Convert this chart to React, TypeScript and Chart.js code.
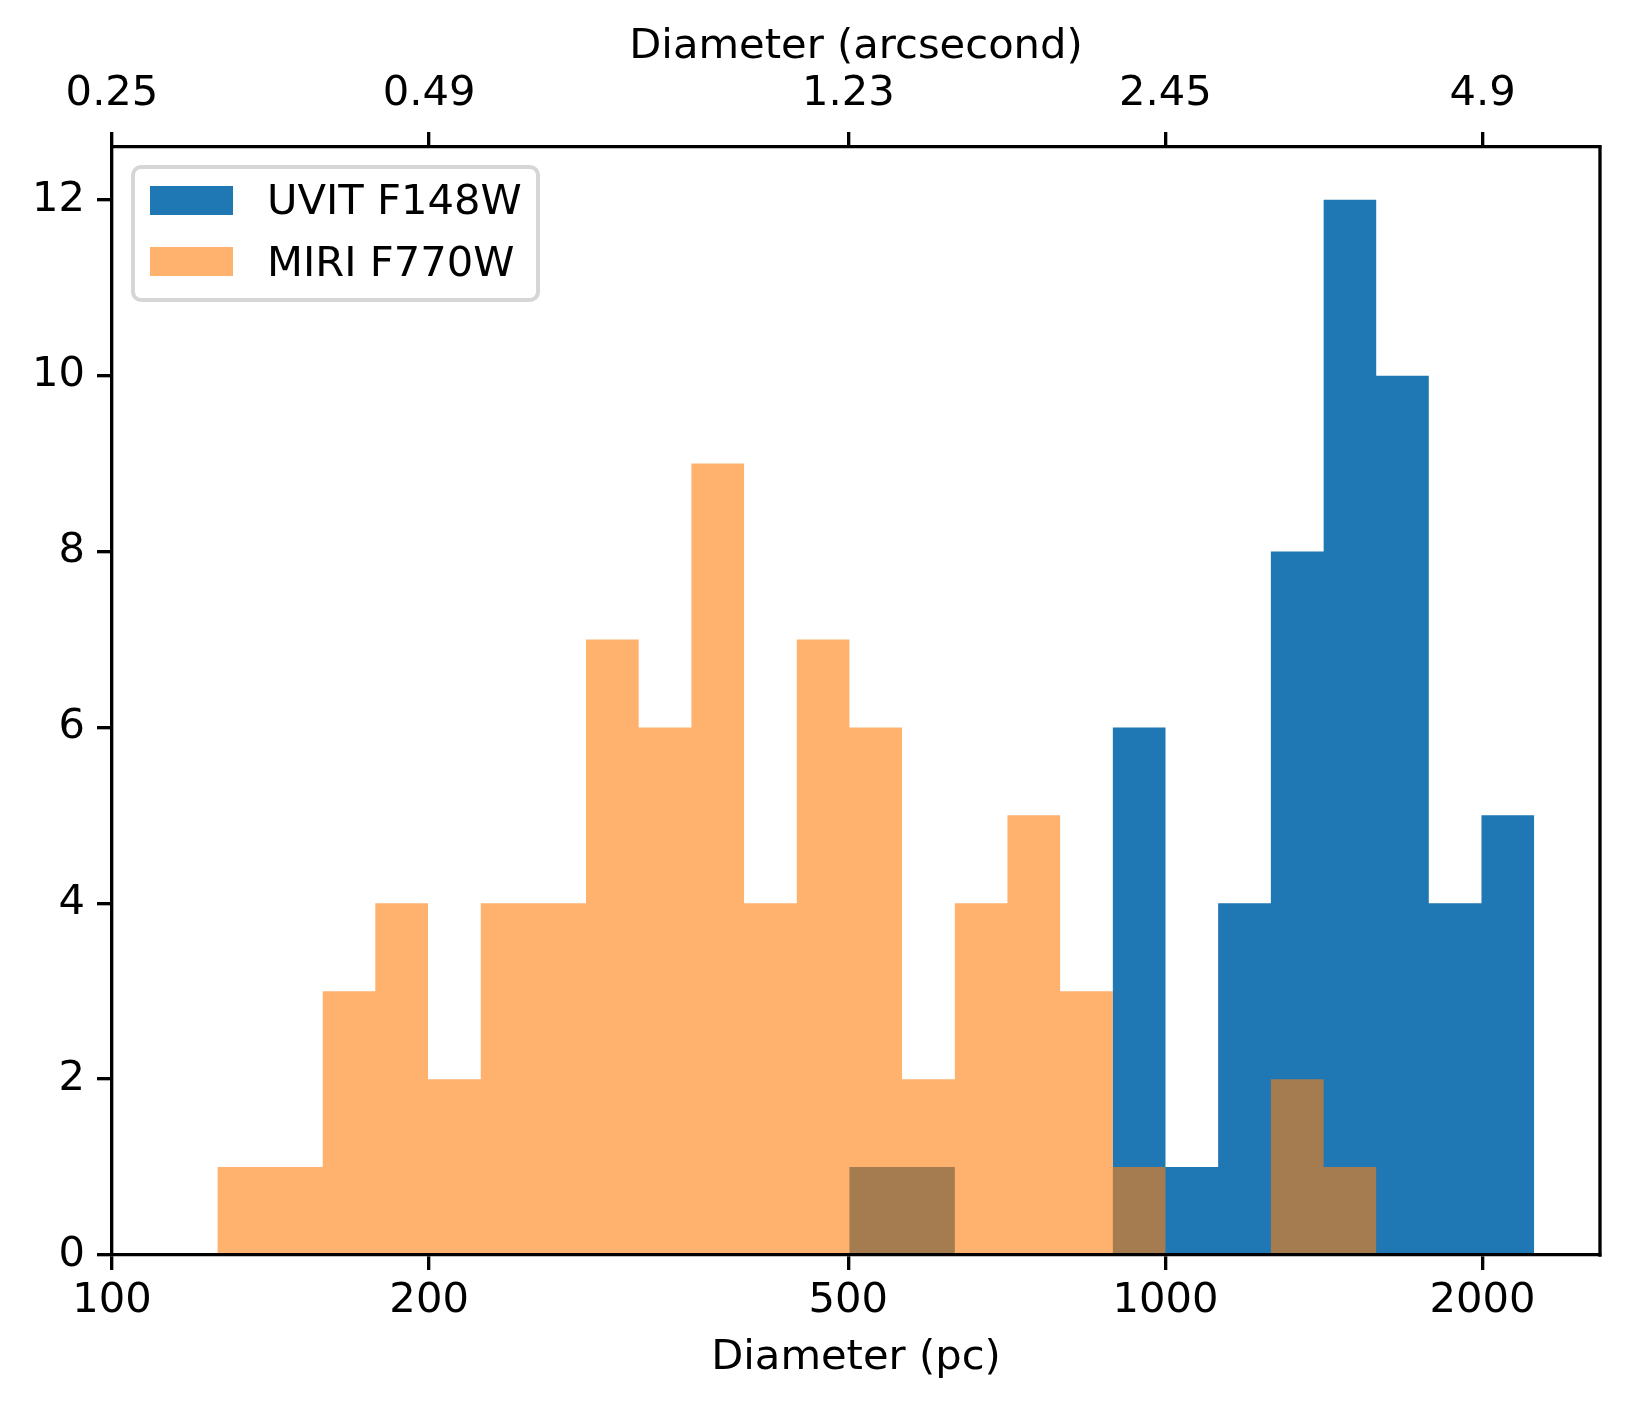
import { useEffect, useRef } from 'react';
import { Chart, registerables } from 'chart.js';

Chart.register(...registerables);

// log-spaced bins, 0.05 dex wide (pc)
const BIN_EDGES = [
  125.9, 141.3, 158.5, 177.8, 199.5, 223.9, 251.2, 281.8, 316.2, 354.8, 398.1,
  446.7, 501.2, 562.3, 631.0, 707.9, 794.3, 891.3, 1000, 1122, 1259, 1413,
  1585, 1778, 1995, 2239,
];

const UVIT_COUNTS = [0, 0, 0, 0, 0, 0, 0, 0, 0, 0, 0, 0, 1, 1, 0, 0, 0, 6, 1, 4, 8, 12, 10, 4, 5];
const MIRI_COUNTS = [1, 1, 3, 4, 2, 4, 4, 7, 6, 9, 4, 7, 6, 2, 4, 5, 3, 1, 0, 0, 2, 1, 0, 0, 0];

const SERIES_LABELS = ['UVIT F148W', 'MIRI F770W'];

const PC_TICKS = [100, 200, 500, 1000, 2000];
const ARCSEC_LABELS = ['0.25', '0.49', '1.23', '2.45', '4.9'];
const Y_TICKS = [0, 2, 4, 6, 8, 10, 12];

const UVIT_COLOR = '#1f77b4';
const MIRI_COLOR = 'rgba(255, 127, 14, 0.6)';
const MIRI_SWATCH = '#ffb26e';

const FONT = { family: 'DejaVu Sans', size: 41.67 };
const LINE = 3.33;

// one point per left edge, value held until the next edge
function toSteps(counts: number[]) {
  const pts = counts.map((c, i) => ({ x: BIN_EDGES[i], y: c }));
  pts.push({ x: BIN_EDGES[BIN_EDGES.length - 1], y: 0 });
  return pts;
}

const rightSpine = {
  id: 'rightSpine',
  afterDraw(chart: any) {
    const { ctx, chartArea } = chart;
    ctx.save();
    ctx.strokeStyle = '#000';
    ctx.lineWidth = LINE;
    ctx.beginPath();
    ctx.moveTo(chartArea.right, chartArea.top - LINE / 2);
    ctx.lineTo(chartArea.right, chartArea.bottom + LINE / 2);
    ctx.stroke();
    ctx.restore();
  },
};

const tickGrid = {
  display: true,
  drawOnChartArea: false,
  drawTicks: true,
  tickLength: 15,
  color: '#000',
  lineWidth: LINE,
  z: 1,
};

// spines drawn above the bars, like matplotlib
const axisBorder = { display: true, color: '#000', width: LINE, z: 1 };

function App() {
  const canvasRef = useRef<HTMLCanvasElement | null>(null);

  useEffect(() => {
    const chart = new Chart(canvasRef.current as HTMLCanvasElement, {
      type: 'line',
      data: {
        datasets: [
          {
            label: SERIES_LABELS[0],
            data: toSteps(UVIT_COUNTS),
            backgroundColor: UVIT_COLOR,
            borderWidth: 0,
            pointRadius: 0,
            pointHoverRadius: 0,
            stepped: 'before',
            fill: 'origin',
            order: 2,
          },
          {
            label: SERIES_LABELS[1],
            data: toSteps(MIRI_COUNTS),
            backgroundColor: MIRI_COLOR,
            borderWidth: 0,
            pointRadius: 0,
            pointHoverRadius: 0,
            stepped: 'before',
            fill: 'origin',
            order: 1,
          },
        ],
      },
      options: {
        responsive: false,
        animation: false,
        devicePixelRatio: 1,
        events: [],
        layout: { padding: { left: 0, right: 30, top: 0, bottom: 0 } },
        plugins: {
          legend: { display: false },
          tooltip: { enabled: false },
        },
        scales: {
          x: {
            type: 'logarithmic',
            position: 'bottom',
            min: 100,
            max: 2585,
            afterBuildTicks: (axis: any) => {
              axis.ticks = PC_TICKS.map((v) => ({ value: v }));
            },
            afterFit: (axis: any) => {
              axis.height = 156;
            },
            grid: tickGrid,
            border: axisBorder,
            ticks: {
              autoSkip: false,
              maxRotation: 0,
              padding: 6,
              font: FONT,
              color: '#000',
              callback: (v: any) => String(v),
            },
            title: {
              display: true,
              text: 'Diameter (pc)',
              font: FONT,
              color: '#000',
              padding: { top: 0, bottom: 28 },
            },
          },
          x2: {
            type: 'logarithmic',
            position: 'top',
            min: 100,
            max: 2585,
            afterBuildTicks: (axis: any) => {
              axis.ticks = PC_TICKS.map((v) => ({ value: v }));
            },
            afterFit: (axis: any) => {
              axis.height = 147;
            },
            grid: tickGrid,
            border: axisBorder,
            ticks: {
              autoSkip: false,
              maxRotation: 0,
              padding: 13,
              font: FONT,
              color: '#000',
              callback: (_v: any, i: number) => ARCSEC_LABELS[i],
            },
            title: {
              display: true,
              text: 'Diameter (arcsecond)',
              font: FONT,
              color: '#000',
              padding: { top: 22.6, bottom: 0 },
            },
          },
          y: {
            type: 'linear',
            min: 0,
            max: 12.6,
            afterBuildTicks: (axis: any) => {
              axis.ticks = Y_TICKS.map((v) => ({ value: v }));
            },
            afterFit: (axis: any) => {
              axis.width = 112;
            },
            grid: tickGrid,
            border: axisBorder,
            ticks: {
              padding: 12,
              font: FONT,
              color: '#000',
              callback: (v: any) => String(v),
            },
          },
        },
      },
      plugins: [rightSpine],
    });

    return () => chart.destroy();
  }, []);

  const text = {
    position: 'absolute' as const,
    left: 132,
    fontFamily: 'DejaVu Sans',
    fontSize: '41.67px',
    lineHeight: '50px',
    color: '#000',
    whiteSpace: 'nowrap' as const,
  };

  return (
    <div style={{ position: 'absolute', left: 0, top: 0, width: 1630, height: 1411, background: '#fff' }}>
      <canvas ref={canvasRef} width={1630} height={1411}></canvas>
      <div
        style={{
          position: 'absolute',
          left: 131,
          top: 165,
          width: 409,
          height: 137,
          boxSizing: 'border-box',
          border: '4px solid #d6d6d6',
          borderRadius: 10,
          background: 'rgba(255,255,255,0.8)',
        }}
      >
        <div style={{ position: 'absolute', left: 15, top: 17, width: 83, height: 29, background: UVIT_COLOR }} />
        <div style={{ ...text, top: 5.6 }}>{SERIES_LABELS[0]}</div>
        <div style={{ position: 'absolute', left: 15, top: 78, width: 83, height: 29, background: MIRI_SWATCH }} />
        <div style={{ ...text, top: 67.6 }}>{SERIES_LABELS[1]}</div>
      </div>
    </div>
  );
}

export default App;
